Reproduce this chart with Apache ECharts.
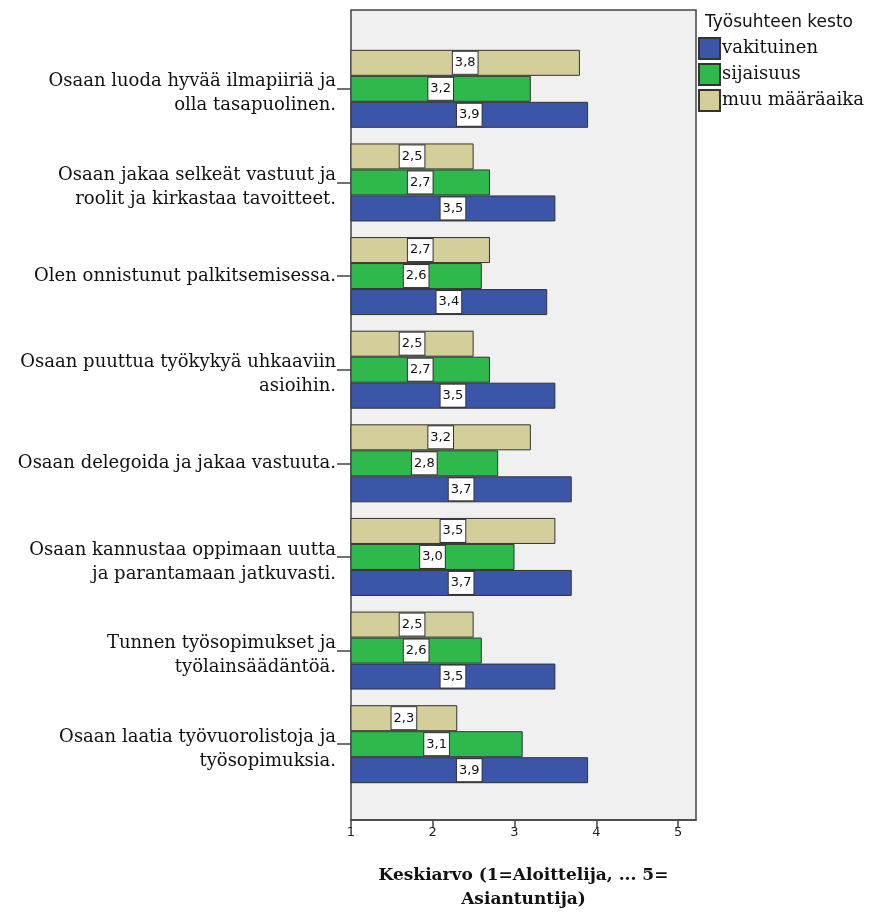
<!DOCTYPE html>
<html>
<head>
<meta charset="utf-8">
<script src="https://cdn.jsdelivr.net/npm/echarts@6/dist/echarts.min.js"></script>
<style>
  html, body { margin: 0; padding: 0; background: #ffffff; }
  #chart { width: 870px; height: 917px; }
</style>
</head>
<body>
<div id="chart"></div>
<script>
// Statements (top to bottom)
var categories = [
  'Osaan luoda hyvää ilmapiiriä ja\nolla tasapuolinen.',
  'Osaan jakaa selkeät vastuut ja\nroolit ja kirkastaa tavoitteet.',
  'Olen onnistunut palkitsemisessa.',
  'Osaan puuttua työkykyä uhkaaviin\nasioihin.',
  'Osaan delegoida ja jakaa vastuuta.',
  'Osaan kannustaa oppimaan uutta\nja parantamaan jatkuvasti.',
  'Tunnen työsopimukset ja\ntyölainsäädäntöä.',
  'Osaan laatia työvuorolistoja ja\ntyösopimuksia.'
];

// Mean scores per employment type
var vakituinen = [3.9, 3.5, 3.4, 3.5, 3.7, 3.7, 3.5, 3.9];
var sijaisuus  = [3.2, 2.7, 2.6, 2.7, 2.8, 3.0, 2.6, 3.1];
var muuMaaraaika = [3.8, 2.5, 2.7, 2.5, 3.2, 3.5, 2.5, 2.3];

var seriesNames = ['vakituinen', 'sijaisuus', 'muu määräaika'];
var xTicks = [1, 2, 3, 4, 5];

var serif = '"DejaVu Serif", "Liberation Serif", serif';
var sans = '"DejaVu Sans", "Liberation Sans", sans-serif';

function fmt(v) { return v.toFixed(1).replace('.', ','); }

// Two-line category labels sit slightly below their tick: a thin spacer line on top
function categoryLabel(text) {
  var lines = text.split('\n');
  if (lines.length < 2) return '{t|' + text + '}';
  return '{s| }\n' + lines.map(function (l) { return '{t|' + l + '}'; }).join('\n');
}

var valueLabel = {
  show: true,
  position: 'inside',
  formatter: function (p) { return fmt(p.value); },
  color: '#111',
  fontFamily: sans,
  fontSize: 13,
  backgroundColor: '#ffffff',
  borderColor: '#333333',
  borderWidth: 1,
  padding: [5, 2, 4, 2]
};

function barSeries(name, data, color) {
  return {
    name: name,
    type: 'bar',
    xAxisIndex: 1,
    yAxisIndex: 1,
    data: data,
    barWidth: 26,
    barGap: '0%',
    itemStyle: { color: color, borderColor: '#333333', borderWidth: 1 },
    label: valueLabel
  };
}

var chart = echarts.init(document.getElementById('chart'), null, { renderer: 'canvas' });

chart.setOption({
  animation: false,
  backgroundColor: '#ffffff',
  title: {
    text: 'Työsuhteen kesto',
    left: 705,
    top: 14,
    padding: 0,
    textStyle: { fontFamily: sans, fontSize: 17, fontWeight: 'normal', color: '#111' }
  },
  legend: {
    data: seriesNames,
    orient: 'vertical',
    left: 698,
    top: 37,
    padding: 0,
    itemWidth: 21,
    itemHeight: 21,
    itemGap: 3,
    icon: 'rect',
    textStyle: { fontFamily: serif, fontSize: 18, color: '#111', padding: [0, 0, 0, -3], lineHeight: 21 }
  },
  grid: [
    // outer plot frame
    { left: 351, right: 174, top: 10, bottom: 94, show: true,
      backgroundColor: '#f0f0f0', borderColor: '#444444', borderWidth: 1.5 },
    // bar area
    { left: 351, right: 174, top: 42, bottom: 126 }
  ],
  xAxis: [
    {
      gridIndex: 0, type: 'value', min: 1, max: 5.22,
      axisLine: { show: true, lineStyle: { color: '#444', width: 1.5 } },
      axisTick: { show: true, length: 8, customValues: xTicks, lineStyle: { color: '#444', width: 1.5 } },
      axisLabel: { customValues: xTicks, fontFamily: sans, fontSize: 13, color: '#222', margin: 6 },
      splitLine: { show: false },
      name: 'Keskiarvo (1=Aloittelija, ... 5=\nAsiantuntija)',
      nameLocation: 'middle',
      nameGap: 44,
      nameTextStyle: { fontFamily: serif, fontSize: 17, fontWeight: 'bold', color: '#111', lineHeight: 24 }
    },
    {
      gridIndex: 1, type: 'value', min: 1, max: 5.22, show: false
    }
  ],
  yAxis: [
    { gridIndex: 0, type: 'value', show: false },
    {
      gridIndex: 1, type: 'category', data: categories, inverse: true,
      axisLine: { show: false },
      axisTick: { show: true, alignWithLabel: true, length: 14, lineStyle: { color: '#444', width: 1.5 } },
      axisLabel: {
        margin: 15, align: 'right',
        formatter: categoryLabel,
        rich: {
          t: { fontFamily: serif, fontSize: 18, color: '#111', lineHeight: 24, align: 'right' },
          s: { fontSize: 9, lineHeight: 10 }
        }
      }
    }
  ],
  series: [
    barSeries('muu määräaika', muuMaaraaika, '#d3ce9a'),
    barSeries('sijaisuus', sijaisuus, '#2fb84b'),
    barSeries('vakituinen', vakituinen, '#3b56a9')
  ]
});
</script>
</body>
</html>
